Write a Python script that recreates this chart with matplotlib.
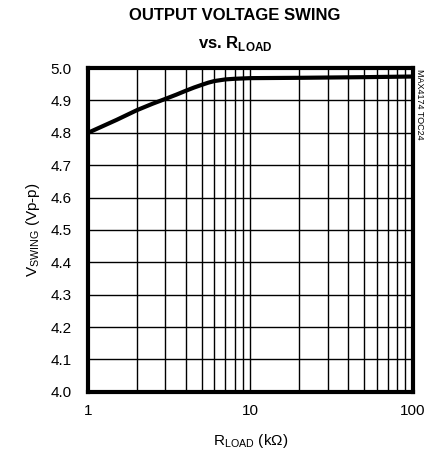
import numpy as np
import matplotlib.pyplot as plt
from matplotlib.ticker import FixedLocator, NullFormatter

# Data
r_load = [1, 1.5, 2, 2.5, 3, 3.5, 4, 4.5, 5, 5.5, 6, 7, 8, 10, 20, 50, 100]
v_swing = [4.80, 4.84, 4.87, 4.89, 4.905, 4.918, 4.93, 4.94, 4.948, 4.955,
           4.960, 4.965, 4.967, 4.969, 4.970, 4.972, 4.974]
y_ticks = [4.0, 4.1, 4.2, 4.3, 4.4, 4.5, 4.6, 4.7, 4.8, 4.9, 5.0]
x_ticks = [1, 10, 100]
x_labels = ['1', '10', '100']

plt.rcParams['font.family'] = ['Liberation Sans', 'DejaVu Sans']
plt.rcParams['mathtext.fontset'] = 'custom'
plt.rcParams['mathtext.rm'] = 'Liberation Sans'
plt.rcParams['mathtext.bf'] = 'Liberation Sans:bold'

fig = plt.figure(figsize=(4.27, 4.54), dpi=100)
ax = fig.add_axes([0.206, 0.137, 0.761, 0.713])

ax.plot(r_load, v_swing, color='black', lw=3, solid_capstyle='butt')

ax.set_xscale('log')
ax.set_xlim(1, 100)
ax.set_ylim(4.0, 5.0)
ax.xaxis.set_major_locator(FixedLocator(x_ticks))
ax.xaxis.set_minor_locator(FixedLocator([m * d for d in (1, 10) for m in range(2, 10)]))
ax.xaxis.set_minor_formatter(NullFormatter())
ax.set_xticks(x_ticks)
ax.set_xticklabels(x_labels)
ax.set_yticks(y_ticks)
ax.set_yticklabels(['%.1f' % v for v in y_ticks])

ax.grid(True, which='both', color='black', lw=1)
ax.tick_params(which='both', length=0, labelsize=11)
ax.tick_params(axis='y', pad=12)
ax.tick_params(axis='x', pad=9)
for s in ax.spines.values():
    s.set_linewidth(3)

ax.set_xlabel(r'R$_{\mathregular{LOAD}}$ (k$\Omega$)', fontsize=11, labelpad=10)
ax.set_ylabel(r'V$_{\mathregular{SWING}}$ (Vp-p)', fontsize=11, labelpad=6)

fig.text(0.55, 0.965, 'OUTPUT VOLTAGE SWING', ha='center', va='center',
         fontsize=12, fontweight='bold')
fig.text(0.55, 0.905, r'vs. R$_{\mathbf{LOAD}}$', ha='center', va='center',
         fontsize=12, fontweight='bold')
fig.text(0.983, 0.848, 'MAX4174 TOC24', rotation=270, ha='center', va='top',
         fontsize=6.5)

fig.savefig('out.png', dpi=100)
